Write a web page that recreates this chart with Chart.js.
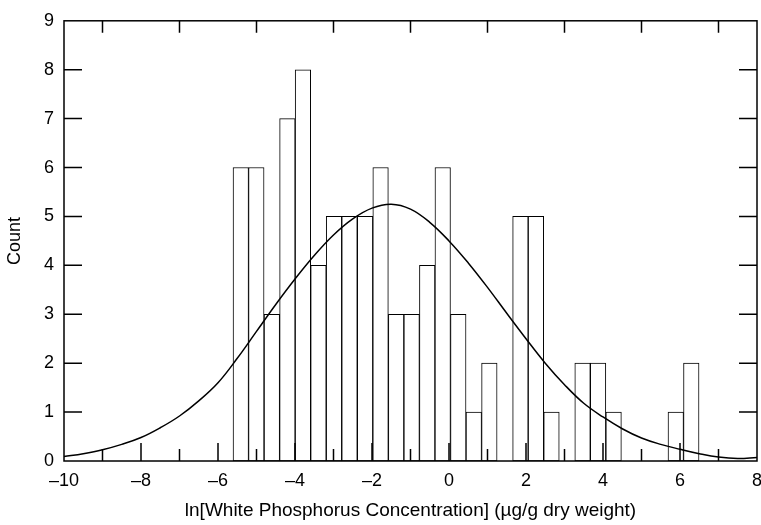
<!DOCTYPE html>
<html>
<head>
<meta charset="utf-8">
<script src="https://cdn.jsdelivr.net/npm/chart.js@4.4.1/dist/chart.umd.min.js"></script>
<style>
  html, body { margin: 0; padding: 0; background: #fff; }
  #wrap { width: 761px; height: 525px; }
</style>
</head>
<body>
<div id="wrap"><canvas id="histChart" width="761" height="525"></canvas></div>
<script>
/* histogram bins (centres, ln units) and counts */
var binCenters = [-5.408, -5.005, -4.601, -4.198, -3.794, -3.391, -2.987, -2.584, -2.180, -1.777,
                  -1.373, -0.970, -0.566, -0.163, 0.241, 0.644, 1.048, 1.451, 1.855, 2.258,
                  2.662, 3.065, 3.469, 3.872, 4.276, 4.679, 5.083, 5.486, 5.890, 6.293];
var binCounts  = [6, 6, 3, 7, 8, 4, 5, 5, 5, 6,
                  3, 3, 4, 6, 3, 1, 2, 0, 5, 5,
                  1, 0, 2, 2, 1, 0, 0, 0, 1, 2];

/* fitted normal curve */
var curveX = [-10, -9.5, -9, -8.5, -8, -7.5, -7, -6.5, -6, -5.5, -5, -4.5, -4, -3.5, -3, -2.5, -2, -1.5,
              -1, -0.5, 0, 0.5, 1, 1.5, 2, 2.5, 3, 3.5, 4, 4.5, 5, 5.5, 6, 6.5, 7, 7.5, 8];
var curveY = [0.09, 0.15, 0.23, 0.34, 0.48, 0.68, 0.92, 1.23, 1.6, 2.1, 2.65, 3.2, 3.72, 4.2, 4.62, 4.95, 5.17, 5.25,
              5.15, 4.88, 4.5, 4.05, 3.55, 3.02, 2.5, 2.0, 1.56, 1.18, 0.9, 0.66, 0.47, 0.34, 0.24, 0.15, 0.08, 0.05, 0.07];

/* axis tick marks */
var yTickMarks     = [1, 2, 3, 4, 5, 6, 7, 8];
var xBottomMarks   = [-9, -8, -7, -6, -5, -4, -3, -2, -1, 0, 1, 2, 3, 4, 5, 6, 7];
var xTopMarks      = [-9, -7, -5, -3, -1, 1, 3, 5, 7];

var FONT = "'Liberation Sans', Arial, sans-serif";

/* frame + inward tick marks, drawn over the bars */
var frameTicks = {
  id: 'frameTicks',
  afterDatasetsDraw: function (chart) {
    var ctx = chart.ctx, a = chart.chartArea;
    var xs = chart.scales.x, ys = chart.scales.y;
    ctx.save();
    ctx.strokeStyle = '#000';
    ctx.lineWidth = 1.5;
    ctx.strokeRect(a.left, a.top, a.right - a.left, a.bottom - a.top);
    ctx.beginPath();
    yTickMarks.forEach(function (v) {
      var py = ys.getPixelForValue(v);
      ctx.moveTo(a.left, py);  ctx.lineTo(a.left + 18, py);
      ctx.moveTo(a.right, py); ctx.lineTo(a.right - 18, py);
    });
    xBottomMarks.forEach(function (v) {
      var px = xs.getPixelForValue(v);
      var len = (v % 2 === 0) ? 18 : 12;
      ctx.moveTo(px, a.bottom); ctx.lineTo(px, a.bottom - len);
    });
    xTopMarks.forEach(function (v) {
      var px = xs.getPixelForValue(v);
      ctx.moveTo(px, a.top); ctx.lineTo(px, a.top + 12);
    });
    ctx.stroke();
    ctx.restore();
  }
};

new Chart(document.getElementById('histChart'), {
  data: {
    datasets: [
      {
        type: 'line',
        order: 0,
        data: curveX.map(function (x, i) { return { x: x, y: curveY[i] }; }),
        borderColor: '#000',
        borderWidth: 1.5,
        pointRadius: 0,
        fill: false,
        tension: 0.4,
      },
      {
        type: 'bar',
        order: 1,
        data: binCenters.map(function (x, i) { return { x: x, y: binCounts[i] }; }),
        backgroundColor: '#fff',
        borderColor: '#000',
        borderWidth: 1,
        borderSkipped: false,
        barPercentage: 1,
        categoryPercentage: 1,
      },
    ],
  },
  options: {
    responsive: false,
    animation: false,
    layout: { padding: { top: 14, right: 4, left: 0, bottom: 0 } },
    plugins: { legend: { display: false }, tooltip: { enabled: false } },
    scales: {
      x: {
        type: 'linear',
        min: -10, max: 8,
        offset: false,
        grid: { display: false, drawTicks: false, offset: false },
        border: { display: false },
        afterFit: function (s) { s.height = 64; s.paddingLeft = 0; s.paddingRight = 0; },
        ticks: {
          stepSize: 2,
          padding: 9,
          color: '#000',
          font: { family: FONT, size: 18 },
          callback: function (v) { return String(v).replace('-', '\u2013'); },
        },
        title: {
          display: true,
          text: 'ln[White Phosphorus Concentration] (\u00b5g/g dry weight)',
          color: '#000',
          font: { family: FONT, size: 19 },
          padding: { top: 0, bottom: 3 },
        },
      },
      y: {
        min: 0, max: 9,
        grid: { display: false, drawTicks: false },
        border: { display: false },
        afterFit: function (s) { s.width = 64; },
        ticks: {
          stepSize: 1,
          padding: 10,
          color: '#000',
          font: { family: FONT, size: 18 },
        },
        title: {
          display: true,
          text: 'Count',
          color: '#000',
          font: { family: FONT, size: 18 },
          padding: { top: 4, bottom: 0 },
        },
      },
    },
  },
  plugins: [frameTicks],
});
</script>
</body>
</html>
